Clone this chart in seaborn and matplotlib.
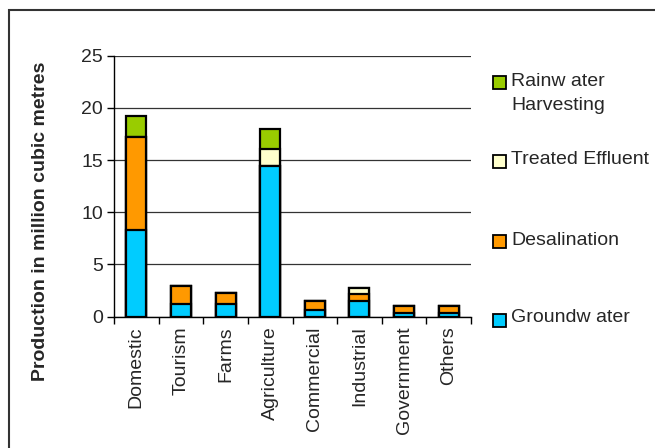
import numpy as np
import pandas as pd
import matplotlib
matplotlib.use("Agg")
import matplotlib.pyplot as plt
from matplotlib.patches import Rectangle
import seaborn as sns

categories = ["Domestic", "Tourism", "Farms", "Agriculture", "Commercial",
              "Industrial", "Government", "Others"]
groundwater = [8.3, 1.2, 1.2, 14.45, 0.65, 1.5, 0.4, 0.4]
desalination = [8.95, 1.75, 1.05, 0.0, 0.9, 0.65, 0.6, 0.6]
treated_effluent = [0.0, 0.0, 0.0, 1.6, 0.0, 0.6, 0.0, 0.0]
rainwater = [1.95, 0.0, 0.0, 1.9, 0.0, 0.0, 0.0, 0.0]
series_names = [["Rainw ater", "Harvesting"], ["Treated Effluent"], ["Desalination"], ["Groundw ater"]]
colors = ["#99CC00", "#FFFFCC", "#FF9900", "#00CCFF"]
y_ticks = [0, 5, 10, 15, 20, 25]

sns.set_style("white")
plt.rcParams["font.family"] = ["Liberation Sans", "DejaVu Sans"]

df = pd.DataFrame({
    "category": categories,
    "gw": groundwater,
    "de": desalination,
    "te": treated_effluent,
    "rw": rainwater,
})
df["c_gw"] = df["gw"]
df["c_de"] = df["c_gw"] + df["de"]
df["c_te"] = df["c_de"] + df["te"]
df["c_rw"] = df["c_te"] + df["rw"]

FS = 14
fig = plt.figure(figsize=(6.55, 4.48), dpi=100)
ax = fig.add_axes([114 / 655, 1 - 316.7 / 448, (471 - 114) / 655, (316.7 - 55.7) / 448])

for col, color in zip(["c_rw", "c_te", "c_de", "c_gw"], colors):
    sns.barplot(data=df, x="category", y=col, color=color, order=categories,
                width=0.45, edgecolor="black", linewidth=1.6, saturation=1,
                ax=ax, zorder=3)

ax.set_ylim(0, 25)
ax.set_xlim(-0.5, len(categories) - 0.5)
ax.set_yticks(y_ticks)
ax.set_yticklabels([str(t) for t in y_ticks], fontsize=FS)
ax.set_xticks(np.arange(-0.5, len(categories), 1.0))
ax.set_xticklabels([])
ax.set_xticks(np.arange(len(categories)), minor=True)
ax.set_xticklabels(categories, minor=True, rotation=90, fontsize=FS)
ax.tick_params(axis="x", which="minor", length=0, pad=7)
ax.tick_params(axis="x", which="major", direction="out", length=5, width=1, color="black", bottom=True)
ax.tick_params(axis="y", direction="out", length=5, width=1, color="black", left=True, pad=3)
ax.set_xlabel("")
ax.set_ylabel("")
fig.text(41 / 655, 1 - 221 / 448, "Production in million cubic metres", fontsize=FS,
         fontweight="bold", rotation=90, ha="center", va="center")

ax.grid(axis="y", color="#333333", linewidth=0.9, zorder=0)
ax.grid(axis="x", visible=False)
ax.set_axisbelow(True)
for side in ["top", "right"]:
    ax.spines[side].set_visible(False)
for side in ["left", "bottom"]:
    ax.spines[side].set_color("black")
    ax.spines[side].set_linewidth(1)
    ax.spines[side].set_zorder(4)

# manual legend
patch_y = [83, 161, 242, 320]
text_y = [81, 159, 240, 317]
for lines, color, py, ty in zip(series_names, colors, patch_y, text_y):
    fig.patches.append(Rectangle((492.5 / 655, 1 - (py + 6.5) / 448), 13 / 655, 13 / 448,
                                 transform=fig.transFigure, facecolor=color,
                                 edgecolor="black", linewidth=1.3))
    for i, line in enumerate(lines):
        fig.text(511 / 655, 1 - (ty + 24 * i) / 448, line, fontsize=FS, va="center", ha="left")

# outer frame
fig.patches.append(Rectangle((8.5 / 655, -0.1), 1.2, 1 - 10.5 / 448 + 0.1,
                             transform=fig.transFigure, facecolor="none",
                             edgecolor="#333333", linewidth=1.5))

fig.savefig("out.png", dpi=100)
